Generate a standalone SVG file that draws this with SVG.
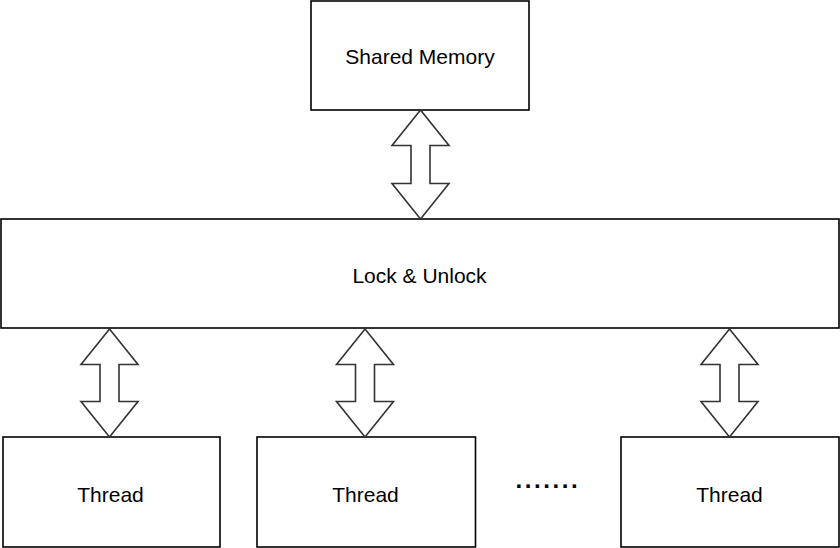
<svg xmlns="http://www.w3.org/2000/svg" width="840" height="548" viewBox="0 0 840 548">
<style>
.box{fill:#fff;stroke:#000;stroke-width:1.6}
.lbl{font-family:"Liberation Sans",Arial,Helvetica,sans-serif;font-size:21px;fill:#000;text-anchor:middle}
.arr{fill:#fff;stroke:#333;stroke-width:1.6;stroke-linejoin:miter}
</style>
<rect width="840" height="548" fill="#fff"/>
<g id="shared-memory">
<rect class="box" x="311" y="1" width="218" height="109"/>
<text class="lbl" x="420" y="63.5">Shared Memory</text>
</g>
<g id="lock-unlock">
<rect class="box" x="1" y="219" width="838" height="109"/>
<text class="lbl" x="419.5" y="282.5">Lock &amp; Unlock</text>
</g>
<g id="thread-1">
<rect class="box" x="3" y="437" width="217" height="110"/>
<text class="lbl" x="110.5" y="501.5">Thread</text>
</g>
<g id="thread-2">
<rect class="box" x="257" y="437" width="218.5" height="110"/>
<text class="lbl" x="365.5" y="501.5">Thread</text>
</g>
<g id="thread-n">
<rect class="box" x="621" y="437" width="218" height="110"/>
<text class="lbl" x="729.5" y="501.5">Thread</text>
</g>
<g id="ellipsis">
<text x="515.6" y="487.7" style="font-family:'Liberation Sans',Arial,sans-serif;font-size:24px;font-weight:bold;letter-spacing:2.55px;fill:#000">.......</text>
</g>
<g id="connectors">
<path class="arr" d="M420.5,110 L449,145.5 L430,145.5 L430,183.5 L449,183.5 L420.5,219 L392,183.5 L411,183.5 L411,145.5 L392,145.5 Z"/>
<path class="arr" d="M109.5,329 L138,364.5 L119,364.5 L119,401.5 L138,401.5 L109.5,437 L81,401.5 L100,401.5 L100,364.5 L81,364.5 Z"/>
<path class="arr" d="M365,329 L393.5,364.5 L374.5,364.5 L374.5,401.5 L393.5,401.5 L365,437 L336.5,401.5 L355.5,401.5 L355.5,364.5 L336.5,364.5 Z"/>
<path class="arr" d="M729.5,329 L758,364.5 L739,364.5 L739,401.5 L758,401.5 L729.5,437 L701,401.5 L720,401.5 L720,364.5 L701,364.5 Z"/>
</g>
</svg>
